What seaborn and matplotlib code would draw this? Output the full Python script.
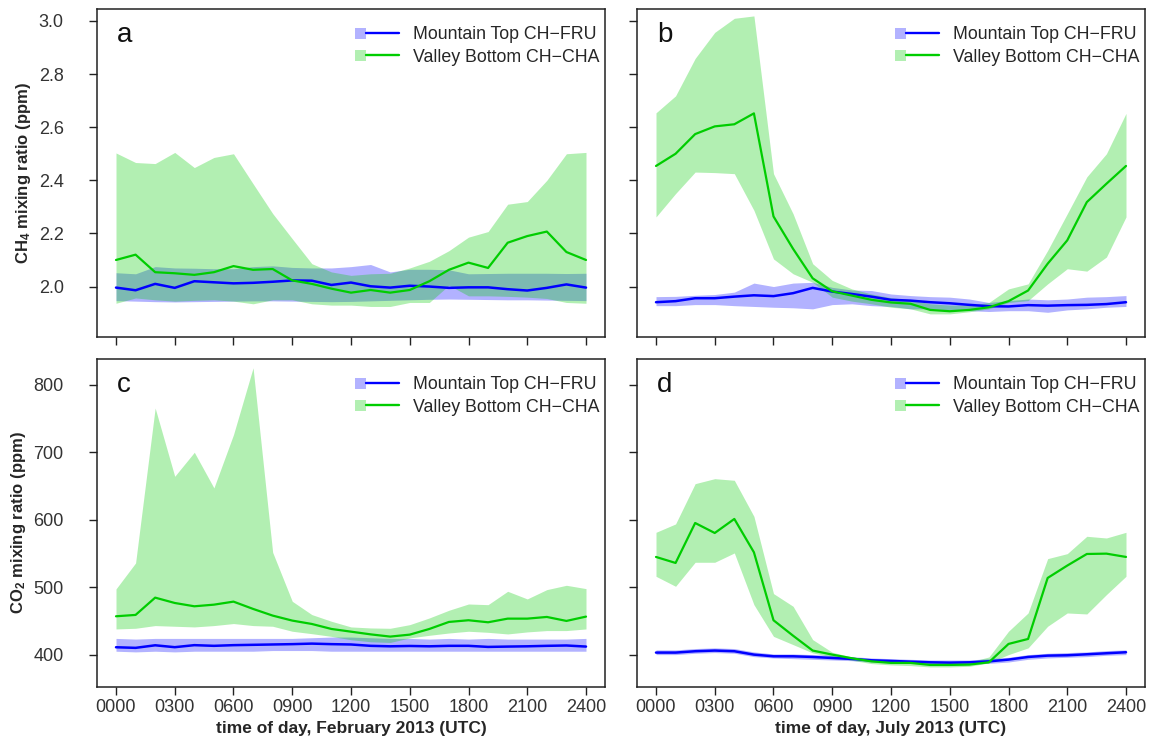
import matplotlib
matplotlib.use("Agg")
import matplotlib.pyplot as plt
import seaborn as sns
from matplotlib import font_manager
from matplotlib.legend_handler import HandlerBase
from matplotlib.patches import Rectangle
from matplotlib.lines import Line2D

hours = list(range(25))
tick_hours = [0, 3, 6, 9, 12, 15, 18, 21, 24]
tick_labels = ["0000", "0300", "0600", "0900", "1200", "1500", "1800", "2100", "2400"]

# CH4, February (ppm)
fru_feb_ch4 = [1.996, 1.986, 2.010, 1.995, 2.020, 2.016, 2.012, 2.014, 2.018, 2.023, 2.022, 2.006, 2.015,
               2.001, 1.996, 2.003, 2.000, 1.995, 1.997, 1.997, 1.990, 1.985, 1.995, 2.008, 1.996]
fru_feb_ch4_hi = [2.052, 2.048, 2.075, 2.070, 2.069, 2.067, 2.067, 2.075, 2.078, 2.072, 2.070, 2.070, 2.075,
                  2.083, 2.055, 2.065, 2.065, 2.063, 2.048, 2.049, 2.050, 2.050, 2.050, 2.049, 2.050]
fru_feb_ch4_lo = [1.947, 1.945, 1.943, 1.942, 1.943, 1.944, 1.945, 1.946, 1.946, 1.945, 1.944, 1.943, 1.944,
                  1.946, 1.948, 1.950, 1.952, 1.953, 1.952, 1.951, 1.950, 1.950, 1.949, 1.948, 1.947]
cha_feb_ch4 = [2.100, 2.120, 2.054, 2.050, 2.044, 2.054, 2.077, 2.063, 2.066, 2.023, 2.010, 1.992, 1.977,
               1.987, 1.977, 1.987, 2.020, 2.063, 2.090, 2.070, 2.165, 2.190, 2.207, 2.130, 2.100]
cha_feb_ch4_hi = [2.503, 2.467, 2.463, 2.505, 2.448, 2.486, 2.500, 2.387, 2.275, 2.180, 2.086, 2.055, 2.042,
                  2.048, 2.050, 2.070, 2.095, 2.135, 2.186, 2.207, 2.310, 2.320, 2.400, 2.500, 2.505]
cha_feb_ch4_lo = [1.937, 1.957, 1.950, 1.945, 1.948, 1.950, 1.945, 1.935, 1.950, 1.950, 1.935, 1.930, 1.930,
                  1.925, 1.925, 1.940, 1.940, 2.005, 1.965, 1.965, 1.963, 1.960, 1.955, 1.940, 1.937]

# CH4, July (ppm)
fru_jul_ch4 = [1.941, 1.945, 1.956, 1.956, 1.962, 1.967, 1.964, 1.975, 1.995, 1.981, 1.972, 1.962, 1.950,
               1.947, 1.941, 1.937, 1.931, 1.926, 1.925, 1.930, 1.928, 1.930, 1.931, 1.934, 1.941]
fru_jul_ch4_hi = [1.962, 1.963, 1.967, 1.970, 1.979, 2.013, 2.000, 2.013, 2.016, 1.997, 1.987, 1.985, 1.972,
                  1.966, 1.962, 1.960, 1.953, 1.940, 1.947, 1.953, 1.950, 1.953, 1.960, 1.962, 1.966]
fru_jul_ch4_lo = [1.928, 1.928, 1.932, 1.932, 1.928, 1.925, 1.922, 1.920, 1.916, 1.932, 1.935, 1.928, 1.925,
                  1.916, 1.916, 1.912, 1.909, 1.906, 1.909, 1.909, 1.903, 1.912, 1.916, 1.922, 1.925]
cha_jul_ch4 = [2.454, 2.500, 2.574, 2.603, 2.611, 2.652, 2.264, 2.142, 2.031, 1.982, 1.966, 1.950, 1.940,
               1.935, 1.912, 1.907, 1.912, 1.922, 1.945, 1.985, 2.086, 2.174, 2.318, 2.387, 2.454]
cha_jul_ch4_hi = [2.654, 2.718, 2.859, 2.957, 3.010, 3.019, 2.425, 2.274, 2.086, 2.023, 1.991, 1.972, 1.958,
                  1.950, 1.935, 1.930, 1.930, 1.940, 1.991, 2.010, 2.136, 2.274, 2.413, 2.500, 2.652]
cha_jul_ch4_lo = [2.262, 2.350, 2.431, 2.429, 2.425, 2.287, 2.104, 2.048, 2.016, 1.960, 1.945, 1.935, 1.922,
                  1.916, 1.897, 1.897, 1.905, 1.916, 1.940, 1.947, 2.010, 2.067, 2.058, 2.111, 2.262]

# CO2, February (ppm)
fru_feb_co2 = [410.9, 410.0, 413.8, 411.0, 414.0, 413.0, 414.0, 414.5, 415.0, 415.5, 416.3, 415.5, 415.0,
               413.0, 412.3, 412.8, 412.3, 413.0, 413.0, 411.4, 411.9, 412.3, 413.0, 413.5, 411.9]
fru_feb_co2_hi = [424, 423, 424, 424, 424, 424, 424, 424, 424, 424, 425, 426, 426,
                  425, 424, 424, 423, 424, 423, 424, 423, 423, 423, 423, 424]
fru_feb_co2_lo = [405, 404, 405, 404, 405, 405, 405, 405, 406, 406, 406, 405, 405,
                  405, 405, 405, 405, 405, 405, 405, 405, 405, 405, 405, 405]
cha_feb_co2 = [456.8, 458.8, 484.4, 476.5, 471.6, 474.0, 478.5, 467.7, 457.8, 450.4, 445.4, 438.0, 434.0,
               430.0, 426.7, 429.6, 438.0, 448.4, 450.9, 447.9, 453.3, 453.3, 455.8, 449.9, 456.3]
cha_feb_co2_hi = [497.3, 535.8, 765.4, 664.2, 699.8, 647.0, 726.0, 825.0, 551.6, 479.0, 459.3, 449.4, 441.0,
                  439.5, 439.0, 444.4, 454.3, 465.7, 475.0, 474.0, 493.8, 482.5, 496.3, 502.7, 497.8]
cha_feb_co2_lo = [438.0, 439.0, 443.0, 442.0, 441.0, 443.0, 446.0, 443.0, 442.0, 434.6, 431.0, 427.0, 422.0,
                  419.0, 418.0, 424.7, 428.6, 432.0, 434.6, 433.0, 430.6, 433.6, 435.6, 435.6, 438.0]

# CO2, July (ppm)
fru_jul_co2 = [403.0, 403.0, 405.0, 406.0, 405.0, 400.0, 397.5, 397.5, 396.5, 395.0, 393.6, 391.6, 390.6,
               389.6, 388.6, 388.1, 388.6, 390.0, 392.6, 396.5, 398.5, 399.0, 400.5, 402.0, 403.5]
fru_jul_co2_hi = [407, 407, 409, 410, 409, 404, 401, 401, 400, 399, 397, 395, 394,
                  393, 392, 392, 392, 394, 396, 400, 402, 403, 404, 406, 407]
fru_jul_co2_lo = [400, 400, 402, 403, 402, 397, 395, 394, 393, 392, 391, 389, 388,
                  387, 386, 386, 386, 387, 389, 393, 395, 396, 397, 399, 400]
cha_jul_co2 = [544.7, 535.8, 595.0, 580.2, 601.0, 551.6, 450.9, 428.0, 406.0, 400.0, 394.6, 390.0, 387.7,
               387.7, 384.7, 384.7, 385.2, 388.6, 415.8, 423.2, 513.6, 531.9, 549.1, 549.6, 544.7]
cha_jul_co2_hi = [581.2, 593.6, 653.3, 660.7, 658.3, 604.9, 490.4, 471.6, 422.2, 403.5, 396.5, 392.6, 390.0,
                  389.0, 388.0, 388.0, 389.0, 396.5, 434.6, 461.7, 542.2, 549.6, 575.3, 572.8, 581.2]
cha_jul_co2_lo = [516.0, 501.2, 536.8, 536.8, 550.6, 474.0, 427.0, 414.8, 402.5, 396.5, 391.6, 386.7, 384.7,
                  383.7, 381.7, 381.7, 382.7, 387.7, 400.0, 409.9, 442.0, 461.7, 460.2, 488.9, 516.0]

FRU_LABEL = "Mountain Top CH\u2212FRU"
CHA_LABEL = "Valley Bottom CH\u2212CHA"
BLUE = "#0000FF"
GREEN = "#00CD00"

sns.set_style("ticks")
plt.rcParams["font.family"] = ["Liberation Sans", "DejaVu Sans"]

# narrow bold face for the y labels, if there is one
installed = {f.name for f in font_manager.fontManager.ttflist}
if "Liberation Sans Narrow" in installed:
    ylab_family, ylab_size = "Liberation Sans Narrow", 13.5
else:
    ylab_family, ylab_size = "Liberation Sans", 12
plt.rcParams["mathtext.fontset"] = "custom"
plt.rcParams["mathtext.rm"] = ylab_family + ":bold"
plt.rcParams["mathtext.bf"] = ylab_family + ":bold"
plt.rcParams["mathtext.default"] = "bf"


class BandLine:
    def __init__(self, band, line):
        self.band = band
        self.line = line


class BandLineHandler(HandlerBase):
    def create_artists(self, legend, orig_handle, xdescent, ydescent, width, height, fontsize, trans):
        sq = 0.62 * fontsize
        y0 = -ydescent + height / 2
        box = Rectangle((-xdescent, y0 - sq / 2), sq, sq, facecolor=orig_handle.band, alpha=0.3,
                        edgecolor="none", transform=trans)
        ln = Line2D([-xdescent + sq, -xdescent + width], [y0, y0], color=orig_handle.line, lw=1.7,
                    transform=trans)
        return [box, ln]


fig = plt.figure(figsize=(11.68, 7.42), dpi=100)
left_x, right_x = 97 / 1168, 637 / 1168
w = 508 / 1168
h = 328 / 742
top_y, bot_y = 1 - 337 / 742, 1 - 687 / 742

panels = [
    (left_x, top_y, "a", fru_feb_ch4, fru_feb_ch4_lo, fru_feb_ch4_hi, cha_feb_ch4, cha_feb_ch4_lo, cha_feb_ch4_hi),
    (right_x, top_y, "b", fru_jul_ch4, fru_jul_ch4_lo, fru_jul_ch4_hi, cha_jul_ch4, cha_jul_ch4_lo, cha_jul_ch4_hi),
    (left_x, bot_y, "c", fru_feb_co2, fru_feb_co2_lo, fru_feb_co2_hi, cha_feb_co2, cha_feb_co2_lo, cha_feb_co2_hi),
    (right_x, bot_y, "d", fru_jul_co2, fru_jul_co2_lo, fru_jul_co2_hi, cha_jul_co2, cha_jul_co2_lo, cha_jul_co2_hi),
]

for x0, y0, letter, fru, fru_lo, fru_hi, cha, cha_lo, cha_hi in panels:
    ax = fig.add_axes([x0, y0, w, h])
    ax.fill_between(hours, fru_lo, fru_hi, color=BLUE, alpha=0.3, lw=0)
    ax.fill_between(hours, cha_lo, cha_hi, color=GREEN, alpha=0.3, lw=0)
    sns.lineplot(x=hours, y=fru, ax=ax, color=BLUE, lw=1.8)
    sns.lineplot(x=hours, y=cha, ax=ax, color=GREEN, lw=1.6)

    ax.set_xlim(-0.97, 24.97)
    ax.set_xticks(tick_hours)
    if letter in "ab":
        ax.set_ylim(1.81, 3.045)
        ax.set_yticks([2.0, 2.2, 2.4, 2.6, 2.8, 3.0])
        ax.set_yticklabels(["2.0", "2.2", "2.4", "2.6", "2.8", "3.0"])
        ax.tick_params(axis="x", labelbottom=False)
    else:
        ax.set_ylim(352, 838)
        ax.set_yticks([400, 500, 600, 700, 800])
        ax.set_xticklabels(tick_labels)
    if letter in "bd":
        ax.tick_params(axis="y", labelleft=False)

    ax.tick_params(direction="out", length=6, width=1, colors="#222222", labelsize=13, labelcolor="#333333")
    ax.tick_params(axis="y", pad=18)
    ax.tick_params(axis="x", pad=3)
    for sp in ax.spines.values():
        sp.set_visible(True)
        sp.set_linewidth(1.1)
        sp.set_color("#222222")
    ax.set_xlabel("")
    ax.set_ylabel("")

    ax.text(0.039, 0.9, letter, transform=ax.transAxes, fontsize=20, va="baseline", ha="left", color="#111111")

    ax.legend([BandLine(BLUE, BLUE), BandLine(GREEN, GREEN)], [FRU_LABEL, CHA_LABEL],
              handler_map={BandLine: BandLineHandler()}, loc="upper right", bbox_to_anchor=(1.014, 0.985),
              frameon=False, fontsize=12.8, handlelength=2.45, handletextpad=0.8, labelspacing=0.3,
              borderaxespad=0.3, borderpad=0.4)

    if letter == "a":
        ax.set_ylabel("CH$_4$ mixing ratio (ppm)", family=ylab_family, fontsize=ylab_size,
                      fontweight="bold", labelpad=4)
    if letter == "c":
        ax.set_ylabel("CO$_2$ mixing ratio (ppm)", family=ylab_family, fontsize=ylab_size,
                      fontweight="bold", labelpad=4)
        ax.set_xlabel("time of day, February 2013 (UTC)", fontsize=12.5, fontweight="bold", labelpad=3)
    if letter == "d":
        ax.set_xlabel("time of day, July 2013 (UTC)", fontsize=12.5, fontweight="bold", labelpad=3)

fig.savefig("out.png", dpi=100)
